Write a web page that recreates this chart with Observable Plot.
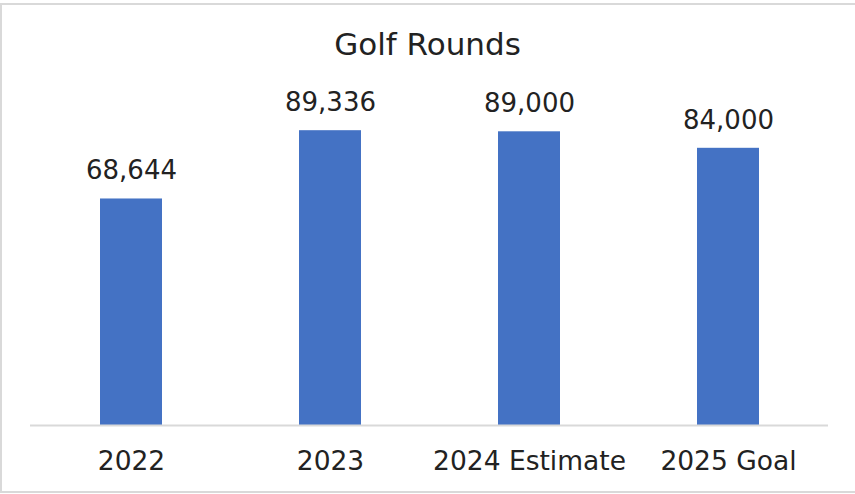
<!DOCTYPE html>
<html>
<head>
<meta charset="utf-8">
<script src="https://cdn.jsdelivr.net/npm/d3@7"></script>
<script src="https://cdn.jsdelivr.net/npm/@observablehq/plot@0.6"></script>
<style>
  html, body { margin: 0; padding: 0; background: #fff; width: 855px; height: 494px; overflow: hidden; }
  #frame { position: absolute; left: 0; top: 3px; width: 860px; height: 490px; box-sizing: border-box; border: 2px solid #d9d9d9; }
  #title { position: absolute; left: 0; top: 26px; width: 855px; text-align: center; font-family: "DejaVu Sans", sans-serif; font-size: 31px; line-height: 36px; color: #222; }
  #chart { position: absolute; left: 0; top: 0; }
</style>
</head>
<body>
<div id="frame"></div>
<div id="title">Golf Rounds</div>
<div id="chart"></div>
<script>
const categories = ["2022", "2023", "2024 Estimate", "2025 Goal"];
const values = [68644, 89336, 89000, 84000];
const valueLabels = ["68,644", "89,336", "89,000", "84,000"];

const data = categories.map((c, i) => ({category: c, value: values[i], label: valueLabels[i]}));

const chart = Plot.plot({
  width: 855,
  height: 494,
  marginTop: 95,
  marginBottom: 69,
  marginLeft: 30,
  marginRight: 27,
  style: {fontFamily: "DejaVu Sans, sans-serif", background: "transparent", color: "#222"},
  x: {domain: categories, paddingInner: 0.69, paddingOuter: 0.345, label: null},
  y: {domain: [0, 100000], axis: null},
  marks: [
    Plot.barY(data, {x: "category", y: "value", fill: "#4472C4"}),
    Plot.ruleY([0], {stroke: "#d9d9d9", strokeWidth: 2}),
    Plot.text(data, {x: "category", y: "value", text: "label", dy: -28, fontSize: 26, fill: "#222"}),
    Plot.axisX({tickSize: 0, tickPadding: 26, fontSize: 26.5, fill: "#222", label: null})
  ]
});
document.getElementById("chart").appendChild(chart);
</script>
</body>
</html>
